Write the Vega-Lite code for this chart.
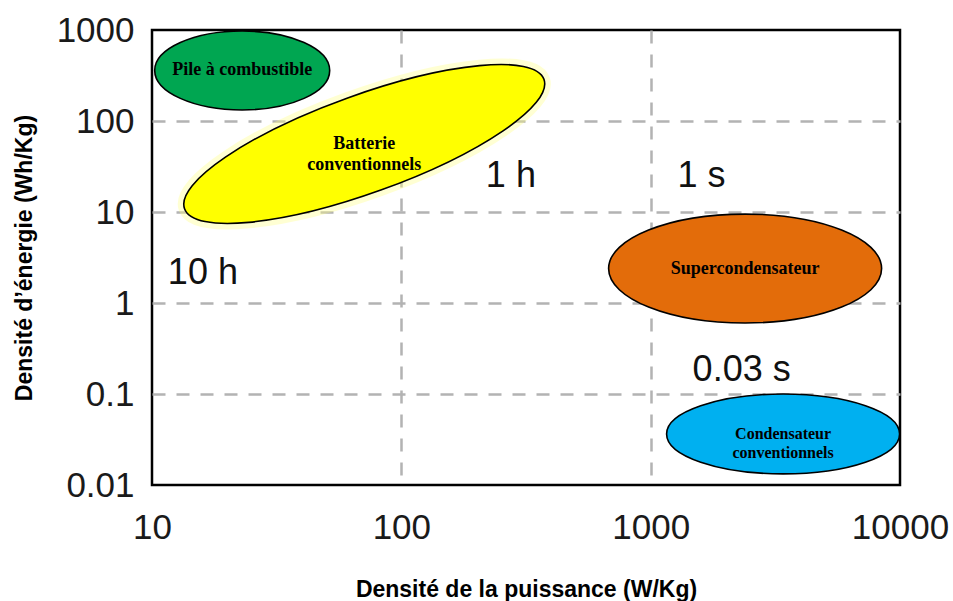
{
  "$schema": "https://vega.github.io/schema/vega-lite/v6.json",
  "autosize": {"type": "none"},
  "padding": {"left": 152, "top": 30, "right": 53, "bottom": 116},
  "width": 748,
  "height": 455,
  "background": "white",
  "config": {
    "view": {"stroke": "black", "strokeWidth": 2.5},
    "axis": {
      "labelFont": "Liberation Sans",
      "labelFontSize": 35,
      "labelColor": "#1a1a1a",
      "labelFlush": false,
      "labelOverlap": false,
      "titleFont": "Liberation Sans",
      "titleFontSize": 23,
      "titleFontWeight": "bold",
      "titleColor": "black",
      "domain": false,
      "ticks": false,
      "tickSize": 0,
      "grid": true,
      "gridWidth": 2.5,
      "gridDash": [13, 11]
    }
  },
  "datasets": {
    "tech": [
      {"tech": "pile", "label": "Pile à combustible", "power": 23, "energy": 359},
      {"tech": "batterie", "label": "Batterie\nconventionnels", "power": 71, "energy": 55.9},
      {"tech": "super", "label": "Supercondensateur", "power": 2392, "energy": 2.39},
      {"tech": "condo", "label": "Condensateur\nconventionnels", "power": 3397, "energy": 0.0364}
    ],
    "durations": [
      {"label": "1 h", "power": 275, "energy": 25},
      {"label": "1 s", "power": 1600, "energy": 25},
      {"label": "10 h", "power": 16, "energy": 2.14},
      {"label": "0.03 s", "power": 2317, "energy": 0.185}
    ]
  },
  "encoding": {
    "x": {
      "field": "power", "type": "quantitative",
      "scale": {"type": "log", "domain": [10, 10000], "nice": false},
      "axis": {"values": [10, 100, 1000, 10000], "format": "~g", "labelPadding": 25, "title": "Densité de la puissance (W/Kg)", "titlePadding": 33,
        "gridColor": {"condition": {"test": "datum.value <= 10.5 || datum.value >= 9999", "value": "transparent"}, "value": "#b3b3b3"}}
    },
    "y": {
      "field": "energy", "type": "quantitative",
      "scale": {"type": "log", "domain": [0.01, 1000], "nice": false},
      "axis": {"values": [0.01, 0.1, 1, 10, 100, 1000], "format": "~g", "labelPadding": 18, "title": "Densité d’énergie (Wh/Kg)", "titlePadding": 20,
        "gridColor": {"condition": {"test": "datum.value <= 0.0105 || datum.value >= 999", "value": "transparent"}, "value": "#b3b3b3"}}
    }
  },
  "layer": [
    {
      "data": {"name": "tech"},
      "transform": [{"filter": "datum.tech == 'batterie'"}],
      "mark": {"type": "point", "filled": false, "opacity": 1, "stroke": "#ffff80", "strokeOpacity": 0.35, "strokeWidth": 12,
        "shape": "M-1,0C-1,-0.1417,-0.5523,-0.2565,0,-0.2565C0.5523,-0.2565,1,-0.1417,1,0C1,0.1417,0.5523,0.2565,0,0.2565C-0.5523,0.2565,-1,0.1417,-1,0Z",
        "size": 145924, "angle": 340.2}
    },
    {
      "data": {"name": "tech"},
      "transform": [{"filter": "datum.tech == 'pile'"}],
      "mark": {"type": "point", "filled": true, "opacity": 1, "fill": "#00a651", "stroke": "black", "strokeWidth": 1.6,
        "shape": "M-1,0C-1,-0.2491,-0.5523,-0.451,0,-0.451C0.5523,-0.451,1,-0.2491,1,0C1,0.2491,0.5523,0.451,0,0.451C-0.5523,0.451,-1,0.2491,-1,0Z",
        "size": 30625}
    },
    {
      "data": {"name": "tech"},
      "transform": [{"filter": "datum.tech == 'batterie'"}],
      "mark": {"type": "point", "filled": true, "opacity": 1, "fill": "#ffff00", "stroke": "black", "strokeWidth": 1.6,
        "shape": "M-1,0C-1,-0.1417,-0.5523,-0.2565,0,-0.2565C0.5523,-0.2565,1,-0.1417,1,0C1,0.1417,0.5523,0.2565,0,0.2565C-0.5523,0.2565,-1,0.1417,-1,0Z",
        "size": 145924, "angle": 340.2}
    },
    {
      "data": {"name": "tech"},
      "transform": [{"filter": "datum.tech == 'super'"}],
      "mark": {"type": "point", "filled": true, "opacity": 1, "fill": "#e36c0a", "stroke": "black", "strokeWidth": 1.6,
        "shape": "M-1,0C-1,-0.2204,-0.5523,-0.399,0,-0.399C0.5523,-0.399,1,-0.2204,1,0C1,0.2204,0.5523,0.399,0,0.399C-0.5523,0.399,-1,0.2204,-1,0Z",
        "size": 74529}
    },
    {
      "data": {"name": "tech"},
      "transform": [{"filter": "datum.tech == 'condo'"}],
      "mark": {"type": "point", "filled": true, "opacity": 1, "fill": "#00b0f0", "stroke": "black", "strokeWidth": 1.6,
        "shape": "M-1,0C-1,-0.1894,-0.5523,-0.343,0,-0.343C0.5523,-0.343,1,-0.1894,1,0C1,0.1894,0.5523,0.343,0,0.343C-0.5523,0.343,-1,0.1894,-1,0Z",
        "size": 54289}
    },
    {
      "data": {"name": "tech"},
      "transform": [{"filter": "datum.tech != 'condo'"}],
      "mark": {"type": "text", "font": "Liberation Serif", "fontWeight": "bold", "fontSize": 18, "color": "black", "lineBreak": "\n", "lineHeight": 21, "align": "center", "baseline": "middle"},
      "encoding": {"text": {"field": "label"}}
    },
    {
      "data": {"name": "tech"},
      "transform": [{"filter": "datum.tech == 'condo'"}],
      "mark": {"type": "text", "font": "Liberation Serif", "fontWeight": "bold", "fontSize": 16, "color": "black", "lineBreak": "\n", "lineHeight": 19, "align": "center", "baseline": "middle"},
      "encoding": {"text": {"field": "label"}}
    },
    {
      "data": {"name": "durations"},
      "mark": {"type": "text", "font": "Liberation Sans", "fontSize": 36, "color": "#111111", "align": "center", "baseline": "middle"},
      "encoding": {"text": {"field": "label"}}
    }
  ]
}
